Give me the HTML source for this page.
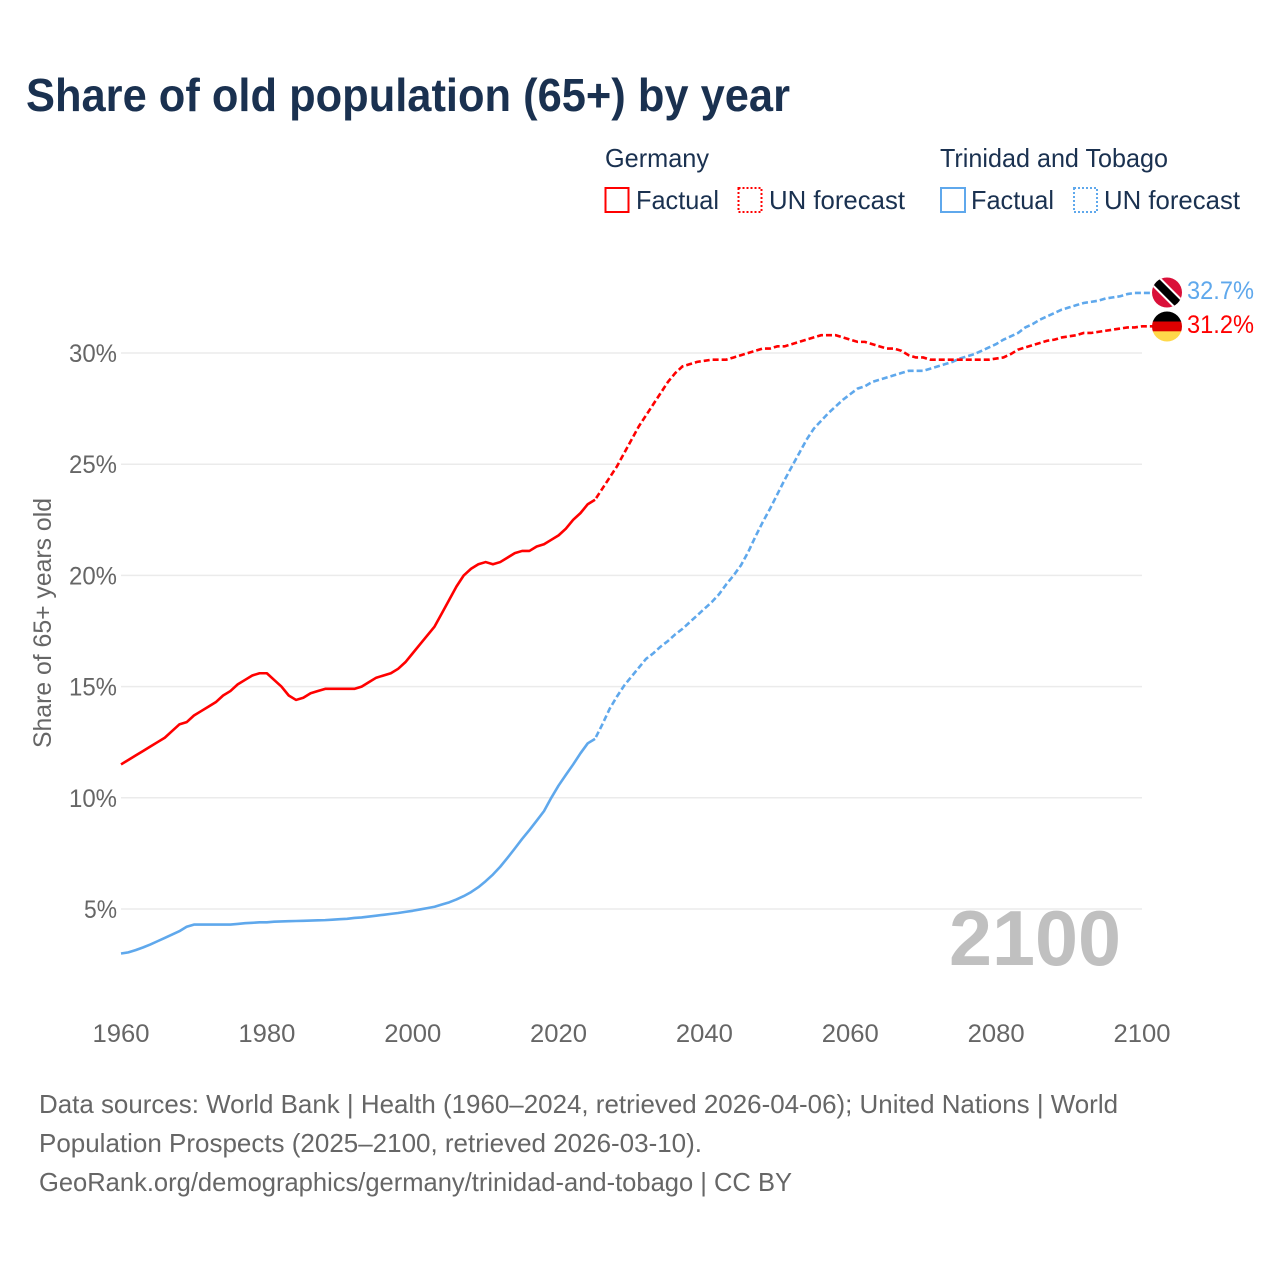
<!DOCTYPE html>
<html lang="en">
<head>
<meta charset="utf-8">
<title>Share of old population (65+) by year</title>
<style>
html,body{margin:0;padding:0;background:#fff;width:1280px;height:1280px;overflow:hidden}
svg{display:block}
text{font-family:"Liberation Sans",sans-serif}
.legend{font-size:26px;fill:#1a3150}
.axis{font-size:25px;fill:#666}
.foot{font-size:26px;fill:#666}
</style>
</head>
<body>
<svg id="chart" xmlns="http://www.w3.org/2000/svg" width="1280" height="1280" viewBox="0 0 1280 1280">
  <rect x="0" y="0" width="1280" height="1280" fill="#fff"/>
  <text x="26" y="111" font-size="46" font-weight="700" fill="#1a3150" textLength="764" lengthAdjust="spacingAndGlyphs">Share of old population (65+) by year</text>

  <g>
    <text class="legend" x="605" y="167" textLength="104" lengthAdjust="spacingAndGlyphs">Germany</text>
    <rect x="605.5" y="188" width="23" height="24" fill="none" stroke="#ff0000" stroke-width="2"/>
    <text class="legend" x="636" y="209" textLength="83" lengthAdjust="spacingAndGlyphs">Factual</text>
    <rect x="738.5" y="188" width="23" height="24" fill="none" stroke="#ff0000" stroke-width="2" stroke-dasharray="2 2"/>
    <text class="legend" x="769" y="209" textLength="136" lengthAdjust="spacingAndGlyphs">UN forecast</text>
    <text class="legend" x="940" y="167" textLength="228" lengthAdjust="spacingAndGlyphs">Trinidad and Tobago</text>
    <rect x="941" y="188" width="24" height="24" fill="none" stroke="#5fa8ec" stroke-width="2"/>
    <text class="legend" x="971" y="209" textLength="83" lengthAdjust="spacingAndGlyphs">Factual</text>
    <rect x="1074" y="188" width="23" height="24" fill="none" stroke="#5fa8ec" stroke-width="2" stroke-dasharray="2 2"/>
    <text class="legend" x="1104" y="209" textLength="136" lengthAdjust="spacingAndGlyphs">UN forecast</text>
  </g>

  <text class="axis" transform="translate(51,748) rotate(-90)" x="0" y="0" textLength="250" lengthAdjust="spacingAndGlyphs">Share of 65+ years old</text>

  <g id="grid"></g>
  <g id="y-ticks"></g>
  <g id="x-ticks"></g>

  <text x="949" y="965" font-size="78" font-weight="700" fill="#c0c0c0" textLength="172" lengthAdjust="spacingAndGlyphs">2100</text>

  <g id="lines"></g>

  <defs>
    <clipPath id="flag-clip-tt"><circle cx="1167" cy="292.5" r="15"/></clipPath>
    <clipPath id="flag-clip-de"><circle cx="1167" cy="326.5" r="15"/></clipPath>
  </defs>
  <g clip-path="url(#flag-clip-tt)">
    <rect x="1152" y="277" width="30" height="31" fill="#da1039"/>
    <line x1="1150" y1="275.5" x2="1184" y2="309.5" stroke="#fff" stroke-width="12"/>
    <line x1="1150" y1="275.5" x2="1184" y2="309.5" stroke="#000" stroke-width="8"/>
  </g>
  <g clip-path="url(#flag-clip-de)">
    <rect x="1152" y="311" width="30" height="11" fill="#000"/>
    <rect x="1152" y="321.5" width="30" height="10" fill="#dd0000"/>
    <rect x="1152" y="331.3" width="30" height="11" fill="#ffd84a"/>
  </g>
  <g id="end-labels"></g>

  <g>
    <text class="foot" x="39" y="1113" textLength="1079" lengthAdjust="spacingAndGlyphs">Data sources: World Bank | Health (1960–2024, retrieved 2026-04-06); United Nations | World</text>
    <text class="foot" x="39" y="1152" textLength="663" lengthAdjust="spacingAndGlyphs">Population Prospects (2025–2100, retrieved 2026-03-10).</text>
    <text class="foot" x="39" y="1191" textLength="753" lengthAdjust="spacingAndGlyphs">GeoRank.org/demographics/germany/trinidad-and-tobago | CC BY</text>
  </g>
</svg>

<script>
var xTickYears = [1960, 1980, 2000, 2020, 2040, 2060, 2080, 2100];
var yTickValues = [5, 10, 15, 20, 25, 30];

var factualStartYear = 1960;
var forecastStartYear = 2025;

var germanyFactual = [
  11.5, 11.7, 11.9, 12.1, 12.3, 12.5, 12.7, 13.0, 13.3, 13.4,
  13.7, 13.9, 14.1, 14.3, 14.6, 14.8, 15.1, 15.3, 15.5, 15.6,
  15.6, 15.3, 15.0, 14.6, 14.4, 14.5, 14.7, 14.8, 14.9, 14.9,
  14.9, 14.9, 14.9, 15.0, 15.2, 15.4, 15.5, 15.6, 15.8, 16.1,
  16.5, 16.9, 17.3, 17.7, 18.3, 18.9, 19.5, 20.0, 20.3, 20.5,
  20.6, 20.5, 20.6, 20.8, 21.0, 21.1, 21.1, 21.3, 21.4, 21.6,
  21.8, 22.1, 22.5, 22.8, 23.2, 23.4
];
var trinidadFactual = [
  3.0, 3.05, 3.15, 3.27, 3.4, 3.55, 3.7, 3.85, 4.0, 4.2,
  4.3, 4.3, 4.3, 4.3, 4.3, 4.3, 4.33, 4.36, 4.38, 4.4,
  4.4, 4.43, 4.44, 4.45, 4.46, 4.47, 4.48, 4.49, 4.5, 4.52,
  4.54, 4.56, 4.6, 4.62, 4.66, 4.7, 4.74, 4.78, 4.82, 4.87,
  4.92, 4.98, 5.04, 5.1, 5.2, 5.3, 5.43, 5.58, 5.76, 5.98,
  6.25, 6.55, 6.9, 7.3, 7.72, 8.15, 8.55, 8.97, 9.4, 10.0,
  10.55, 11.03, 11.5, 12.0, 12.45, 12.65
];
var germanyForecast = [
  23.4, 23.9, 24.4, 24.9, 25.5,
  26.1, 26.7, 27.2, 27.7, 28.2, 28.7, 29.1, 29.4, 29.5, 29.6,
  29.65, 29.7, 29.7, 29.7, 29.8, 29.9, 30.0, 30.1, 30.2, 30.2,
  30.3, 30.3, 30.4, 30.5, 30.6, 30.7, 30.8, 30.8, 30.8, 30.7,
  30.6, 30.5, 30.5, 30.4, 30.3, 30.2, 30.2, 30.1, 29.9, 29.8,
  29.8, 29.7, 29.7, 29.7, 29.7, 29.7, 29.7, 29.7, 29.7, 29.7,
  29.75, 29.8, 29.95, 30.15, 30.25, 30.35, 30.45, 30.55, 30.6, 30.7,
  30.75, 30.8, 30.9, 30.9, 30.95, 31.0, 31.05, 31.1, 31.15, 31.15,
  31.2
];
var trinidadForecast = [
  12.65, 13.3, 14.0, 14.55, 15.05,
  15.45, 15.85, 16.25, 16.5, 16.8, 17.05, 17.35, 17.6, 17.9, 18.2,
  18.5, 18.8, 19.15, 19.6, 20.0, 20.45, 21.05, 21.75, 22.4, 23.0,
  23.65, 24.3, 24.9, 25.5, 26.1, 26.6, 26.95, 27.3, 27.6, 27.9,
  28.15, 28.4, 28.5, 28.7, 28.8, 28.9, 29.0, 29.1, 29.2, 29.2,
  29.2, 29.3, 29.4, 29.5, 29.6, 29.75, 29.85, 29.95, 30.1, 30.25,
  30.4, 30.6, 30.75, 30.9, 31.15, 31.3, 31.5, 31.65, 31.8, 31.95,
  32.05, 32.15, 32.25, 32.3, 32.35, 32.45, 32.5, 32.55, 32.65, 32.7,
  32.7
];

var SVGNS = 'http://www.w3.org/2000/svg';
var RED = '#ff0000';
var BLUE = '#5fa8ec';

function xScale(year) { return 121 + (year - 1960) * (1142 - 121) / 140; }
function yScale(v) { return 909 - (v - 5) * (909 - 353) / 25; }

function make(tag, attrs, parentId) {
  var el = document.createElementNS(SVGNS, tag);
  for (var k in attrs) el.setAttribute(k, attrs[k]);
  document.getElementById(parentId).appendChild(el);
  return el;
}

function linePath(values, startYear, extendToFlag) {
  var d = '';
  for (var i = 0; i < values.length; i++) {
    d += (i ? 'L' : 'M') + xScale(startYear + i).toFixed(2) + ' ' + yScale(values[i]).toFixed(2);
  }
  if (extendToFlag) {
    d += 'L' + (xScale(startYear + values.length - 1) + 12).toFixed(2) + ' ' + yScale(values[values.length - 1]).toFixed(2);
  }
  return d;
}

yTickValues.forEach(function (v) {
  var grid = make('line', { x1: xScale(1960), x2: xScale(2100), y1: yScale(v), y2: yScale(v), stroke: '#ebebeb', 'stroke-width': 1.5 }, 'grid');
  
  
  var label = make('text', { x: 117, y: yScale(v) + 9, 'text-anchor': 'end', 'class': 'axis', textLength: v < 10 ? 33 : 48, lengthAdjust: 'spacingAndGlyphs' }, 'y-ticks');
  
  
  label.textContent = v + '%';
});

xTickYears.forEach(function (year) {
  var label = make('text', { x: xScale(year), y: 1042, 'text-anchor': 'middle', 'class': 'axis', textLength: 57, lengthAdjust: 'spacingAndGlyphs' }, 'x-ticks');
  
  
  label.textContent = year;
});

var trinidadPast = make('path', { d: linePath(trinidadFactual, factualStartYear, false), fill: 'none', stroke: BLUE, 'stroke-width': 2.6, 'stroke-linejoin': 'round' }, 'lines');



var germanyPast = make('path', { d: linePath(germanyFactual, factualStartYear, false), fill: 'none', stroke: RED, 'stroke-width': 2.6, 'stroke-linejoin': 'round' }, 'lines');



var trinidadFuture = make('path', { d: linePath(trinidadForecast, forecastStartYear, true), fill: 'none', stroke: BLUE, 'stroke-width': 2.6, 'stroke-dasharray': '6 3', 'stroke-dashoffset': 7 }, 'lines');



var germanyFuture = make('path', { d: linePath(germanyForecast, forecastStartYear, true), fill: 'none', stroke: RED, 'stroke-width': 2.6, 'stroke-dasharray': '6 3', 'stroke-dashoffset': 7 }, 'lines');



var ttEnd = make('text', { x: 1187, y: 299, fill: BLUE, 'font-size': 25, textLength: 67, lengthAdjust: 'spacingAndGlyphs' }, 'end-labels');


ttEnd.textContent = trinidadForecast[trinidadForecast.length - 1].toFixed(1) + '%';

var deEnd = make('text', { x: 1187, y: 333, fill: RED, 'font-size': 25, textLength: 67, lengthAdjust: 'spacingAndGlyphs' }, 'end-labels');


deEnd.textContent = germanyForecast[germanyForecast.length - 1].toFixed(1) + '%';
</script>
</body>
</html>
